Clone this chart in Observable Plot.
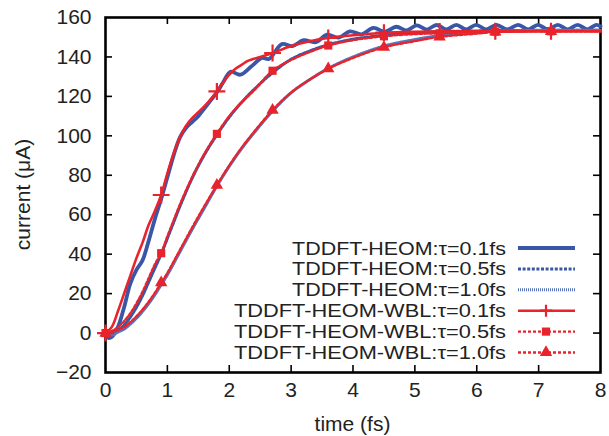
<!DOCTYPE html>
<html><head><meta charset="utf-8">
<script src="https://cdn.jsdelivr.net/npm/d3@7"></script>
<script src="https://cdn.jsdelivr.net/npm/@observablehq/plot@0.6"></script>
<style>
body{margin:0;background:#fff;}
#chart{width:609px;height:436px;}
</style>
</head><body><div id="chart"></div>
<script>
// ---- tick values ----
const xTicks = [0,1,2,3,4,5,6,7,8];
const yTicks = [-20,0,20,40,60,80,100,120,140,160];
const xLabel = "time (fs)";
const yLabel = "current (\u03bcA)";

// ---- TDDFT-HEOM tau=0.1fs (blue, solid, oscillating) ----
const tBlue01 = [0,0.05,0.1,0.2,0.3,0.4,0.5,0.6,0.7,0.8,0.9,1.0,1.1,1.2,1.3,1.4,1.5,1.6,1.7,1.8,1.9,2.02,2.18,2.35,2.53,2.64,2.85,3.02,3.2,3.4,3.58,3.77,3.95,4.14,4.33,4.52,4.70,4.87,5.03,5.19,5.35,5.51,5.67,5.83,5.99,6.15,6.32,6.49,6.67,6.83,6.99,7.15,7.31,7.47,7.63,7.79,7.93,8.0];
const vBlue01 = [0,-2.5,-2,3,13,25,32,37,47,58,68,79,90,99,104,107,110,114,118,122,127,132.5,131,135,139.5,139,146.5,145.5,148.5,147.5,151.3,149.8,153,151.5,154.7,152.8,155.3,153.5,156,153.9,156.2,154,156.3,154,156.3,154,156.3,154,156.3,154,156.3,154,156.3,154,156.3,154,156.3,155.5];
// ---- TDDFT-HEOM tau=0.5fs (blue, dashed) ----
const tBlue05 = [0,0.1,0.2,0.3,0.4,0.5,0.6,0.7,0.8,0.9,1.0,1.1,1.2,1.4,1.6,1.8,2.0,2.2,2.4,2.7,3.0,3.3,3.6,4.0,4.5,5.0,5.4,6.0,7.0,8.0];
const vBlue05 = [0,-1,1,4,8,13,19,26,33,40,48,56,64,78.5,90.5,100.5,109.5,117,123.5,132,138.8,143,146.2,149,151,152.2,152.8,153.2,153.5,153.5];
// ---- TDDFT-HEOM tau=1.0fs (blue, fine dotted) ----
const tBlue10 = [0,0.1,0.2,0.3,0.4,0.5,0.6,0.7,0.8,0.9,1.0,1.2,1.4,1.6,1.8,2.0,2.2,2.4,2.7,3.0,3.3,3.6,4.0,4.5,5.0,5.4,6.0,6.3,7.2,8.0];
const vBlue10 = [0,-1,0.5,2,4.5,7.5,11,15,19.5,24.5,29.5,41,52.5,63.5,74.5,84.5,93.5,101.5,112.5,121.8,128.5,134.2,140,145.5,148.8,150.8,152.5,153,153.5,153.5];

// ---- TDDFT-HEOM-WBL tau=0.1fs (red, solid, + markers) ----
const tRed01 = [0,0.1,0.2,0.3,0.4,0.5,0.6,0.7,0.8,0.9,1.0,1.1,1.2,1.3,1.4,1.5,1.6,1.7,1.8,1.9,2.0,2.1,2.2,2.3,2.5,2.7,3.0,3.3,3.6,4.0,4.5,5.0,5.5,6.0,7.0,8.0];
const vRed01 = [0,3,11,20,29,38,46,55,62,70,81,91,99,105,109,112,115,118.5,122.5,127,131,134,136,138,140,142,145.5,148,149.6,151,152.3,152.8,153,153,153,153];
// ---- TDDFT-HEOM-WBL tau=0.5fs (red, dashed, square markers) ----
const tRed05 = [0,0.1,0.2,0.3,0.4,0.5,0.6,0.7,0.8,0.9,1.0,1.1,1.2,1.4,1.6,1.8,2.0,2.2,2.4,2.7,3.0,3.3,3.6,4.0,4.5,5.0,5.4,6.0,6.3,7.2,8.0];
const vRed05 = [0,1,3,6,10,15,21,28,35,40.5,49,57,65,79,91,101,110,117,123,133,138.5,142.5,145.8,148.5,150.5,151.6,152,152.6,152.8,153,153];
// ---- TDDFT-HEOM-WBL tau=1.0fs (red, dashed, triangle markers) ----
const tRed10 = [0,0.1,0.2,0.3,0.4,0.5,0.6,0.7,0.8,0.9,1.0,1.2,1.4,1.6,1.8,2.0,2.2,2.4,2.7,3.0,3.3,3.6,4.0,4.5,5.0,5.4,6.0,6.3,7.2,8.0];
const vRed10 = [0,0.5,1.5,3,5.5,8.5,12,16,20.5,25.5,30.5,42,53.5,64.5,75,85,94,102,113,122,128.5,134,139.5,144.9,148,150.2,151.8,152.7,153,153];

// ---- marker points (every 0.9 fs) ----
const tMarks = [0,0.9,1.8,2.7,3.6,4.5,5.4,6.3,7.2];
const vMarkRed01 = [0,70,122.5,142,149.6,152.3,152.9,153,153];
const vMarkRed05 = [0,40.5,101,133,145.8,150.5,152,152.8,153];
const vMarkRed10 = [0,25.5,75,113,134,144.9,150.2,152.7,153];

// ---- legend ----
const legendLabels = ["TDDFT-HEOM:\u03c4=0.1fs","TDDFT-HEOM:\u03c4=0.5fs","TDDFT-HEOM:\u03c4=1.0fs",
  "TDDFT-HEOM-WBL:\u03c4=0.1fs","TDDFT-HEOM-WBL:\u03c4=0.5fs","TDDFT-HEOM-WBL:\u03c4=1.0fs"];

const BLUE = "#3a56a6", BLUE2 = "#5a75ba", RED = "#e8232b";
const styles = [
  {stroke:BLUE, strokeWidth:3.8, dash:null, sym:null},
  {stroke:BLUE, strokeWidth:3, dash:"3,1.6", sym:null},
  {stroke:BLUE2, strokeWidth:3, dash:"1,1", sym:null},
  {stroke:RED, strokeWidth:2.6, dash:null, sym:"plus"},
  {stroke:RED, strokeWidth:2.4, dash:"3,2", sym:"square"},
  {stroke:RED, strokeWidth:2.4, dash:"3,2", sym:"triangle"}
];

const rows = (t, v) => t.map((d, i) => ({t: d, v: v[i]}));
const series = [rows(tBlue01,vBlue01), rows(tBlue05,vBlue05), rows(tBlue10,vBlue10),
                rows(tRed01,vRed01), rows(tRed05,vRed05), rows(tRed10,vRed10)];
const markers = [rows(tMarks,vMarkRed01), rows(tMarks,vMarkRed05), rows(tMarks,vMarkRed10)];

const W = 609, H = 436, mL = 105, mR = 9, mT = 17, mB = 64;
const innerW = W - mL - mR, innerH = H - mT - mB;
const tickLen = 7;
const FONT = "'Liberation Sans', Arial, Helvetica, sans-serif";

const lineMarks = series.map((d, i) => Plot.line(d, {
  x: "t", y: "v", stroke: styles[i].stroke, strokeWidth: styles[i].strokeWidth,
  strokeDasharray: styles[i].dash || undefined, curve: "catmull-rom"
}));
const markerMarks = markers.map((d, i) => {
  const s = styles[i + 3];
  if (s.sym === "plus") return Plot.dot(d, {x: "t", y: "v", symbol: "plus", r: 5.5, stroke: RED, strokeWidth: 2.2});
  return Plot.dot(d, {x: "t", y: "v", symbol: s.sym, r: 4.6, fill: RED, stroke: "none"});
});

const chart = Plot.plot({
  width: W, height: H,
  marginLeft: mL, marginRight: mR, marginTop: mT, marginBottom: mB,
  style: {fontFamily: FONT, fontSize: "21px", color: "#222", background: "#fff", overflow: "visible"},
  x: {domain: [0, 8], ticks: xTicks, tickSize: 0, tickPadding: 10, label: null},
  y: {domain: [-20, 160], ticks: yTicks, tickSize: 0, tickPadding: 14, label: null},
  marks: [
    Plot.ruleX(xTicks.slice(1, -1), {insetTop: innerH - tickLen, stroke: "#000", strokeWidth: 1.6}),
    Plot.ruleX(xTicks.slice(1, -1), {insetBottom: innerH - tickLen, stroke: "#000", strokeWidth: 1.6}),
    Plot.ruleY(yTicks.slice(1, -1), {insetRight: innerW - tickLen, stroke: "#000", strokeWidth: 1.6}),
    Plot.ruleY(yTicks.slice(1, -1), {insetLeft: innerW - tickLen, stroke: "#000", strokeWidth: 1.6}),
    Plot.frame({stroke: "#000", strokeWidth: 2.6}),
    ...lineMarks,
    ...markerMarks
  ]
});
document.getElementById("chart").appendChild(chart);

const svg = d3.select(chart);
// axis titles
svg.append("text").attr("x", mL + innerW / 2).attr("y", 424).attr("dy", "0.35em")
  .attr("text-anchor", "middle").attr("font-family", FONT).attr("font-size", 21).attr("fill", "#222").text(xLabel);
svg.append("text").attr("transform", `translate(23,${mT + innerH / 2}) rotate(-90)`).attr("dy", "0.35em")
  .attr("text-anchor", "middle").attr("font-family", FONT).attr("font-size", 21).attr("fill", "#222").text(yLabel);

// legend drawn inside the plot area (tight rows as in the reference; text widened to the reference widths)
const lg = svg.append("g").attr("class", "legend")
  .attr("font-family", FONT).attr("font-size", 18.2).attr("fill", "#222");
const rowY0 = 248, rowStep = 20.9, textX = 506, lx1 = 518, lx2 = 575, lmx = 546;
legendLabels.forEach((lab, i) => {
  const y = rowY0 + i * rowStep, s = styles[i];
  const w = i < 3 ? 214 : 272;
  const g = lg.append("g");
  const txt = g.append("text").attr("x", 0).attr("y", 0).attr("dy", "0.36em")
    .attr("text-anchor", "end").text(lab);
  let natural = 0;
  try { natural = txt.node().getComputedTextLength(); } catch (e) { natural = 0; }
  const sx = natural > 0 ? Math.min(1.3, Math.max(0.8, w / natural)) : 1.14;
  g.attr("transform", `translate(${textX},${y}) scale(${sx.toFixed(3)},1)`);
  lg.append("line").attr("x1", lx1).attr("x2", lx2).attr("y1", y).attr("y2", y)
    .attr("stroke", s.stroke).attr("stroke-width", s.strokeWidth).attr("stroke-dasharray", s.dash);
  if (s.sym === "plus") {
    lg.append("path").attr("d", "M-6,0H6M0,-6V6").attr("transform", `translate(${lmx},${y})`)
      .attr("stroke", RED).attr("stroke-width", 2.2).attr("fill", "none");
  } else if (s.sym) {
    const sym = s.sym === "square" ? d3.symbolSquare : d3.symbolTriangle;
    lg.append("path").attr("d", d3.symbol(sym, 4.6 * 4.6 * Math.PI)()).attr("transform", `translate(${lmx},${y})`).attr("fill", RED);
  }
});
</script>
</body></html>
